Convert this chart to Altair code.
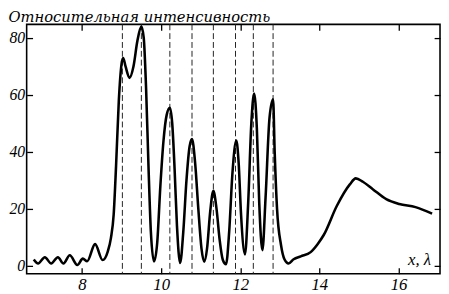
import altair as alt
import pandas as pd

# curve
curve_x = [6.78, 6.89, 7.06, 7.22, 7.39, 7.53, 7.69, 7.88, 8.02, 8.13, 8.33, 8.52, 8.65, 8.73, 8.80, 8.86,
           8.93, 9.00, 9.04, 9.10, 9.20, 9.30, 9.40, 9.50, 9.56, 9.62, 9.68, 9.74, 9.82, 9.90, 9.98,
           10.06, 10.14, 10.22, 10.28, 10.34, 10.40, 10.48, 10.56, 10.64, 10.72, 10.78, 10.86, 10.94,
           11.02, 11.09, 11.16, 11.24, 11.32, 11.40, 11.48, 11.56, 11.64, 11.72, 11.80, 11.90, 11.96,
           12.02, 12.12, 12.20, 12.28, 12.35, 12.42, 12.48, 12.56, 12.64, 12.74, 12.83, 12.87, 12.93,
           13.03, 13.12, 13.22, 13.35, 13.53, 13.78, 13.95, 14.11, 14.44, 14.77, 14.92, 15.10, 15.35,
           15.69, 16.02, 16.43, 16.85]
curve_y = [2.2, 0.8, 3.0, 0.8, 3.0, 0.8, 3.7, 0.3, 2.5, 1.6, 7.6, 2.0, 5.0, 9.7, 18, 35,
           58, 71, 73, 70, 66, 70, 79, 84, 80, 62, 35, 12, 1.5, 8, 28,
           44, 53, 55.5, 50, 34, 14, 1.0, 12, 30, 42, 44.5, 36, 20,
           6, 1.4, 6, 19, 26.3, 20, 9, 2, 0.5, 12, 32, 44, 36,
           18, 4, 22, 50, 60.5, 48, 22, 5.5, 24, 52, 58.5, 40, 20,
           7.3, 2.2, 0.8, 2.3, 3.3, 4.8, 7.5, 10.8, 21, 28.6, 30.7, 29.5, 26.9,
           23.4, 21.7, 20.6, 18.3]

dash_x = [9.02, 9.50, 10.22, 10.78, 11.32, 11.88, 12.33, 12.83]

x_ticks = [8, 10, 12, 14, 16]
y_ticks = [0, 20, 40, 60, 80]
x_domain = [6.6, 17.05]
y_domain = [-2.8, 84.8]

y_title = "Относительная интенсивность"
x_title = "x, λ"

curve = pd.DataFrame({"x": curve_x, "y": curve_y})
dashes = pd.DataFrame({"x": dash_x})

TITLE_FONT = "DejaVu Serif"
FONT = "Liberation Serif"

xscale = alt.Scale(domain=x_domain, nice=False, zero=False)
yscale = alt.Scale(domain=y_domain, nice=False, zero=False)

common = dict(domain=False, grid=False, tickSize=6, offset=-6, tickColor="black", tickWidth=1.3)

rules = alt.Chart(dashes).mark_rule(color="#222222", strokeWidth=1, strokeDash=[6, 3]).encode(
    x=alt.X("x:Q", scale=xscale,
            axis=alt.Axis(orient="top", values=x_ticks, labels=False, title="", **common))
)

line = alt.Chart(curve).mark_line(color="black", strokeWidth=2.6, interpolate="monotone").encode(
    x=alt.X("x:Q", scale=xscale,
            axis=alt.Axis(orient="bottom", values=x_ticks, labelFont=FONT, labelFontStyle="italic",
                          labelFontSize=17, labelColor="black", labelPadding=3, format="d",
                          title=x_title, titleFont=FONT, titleFontStyle="italic", titleFontWeight="normal",
                          titleFontSize=17, titleColor="black", titleAlign="left", titleBaseline="alphabetic",
                          titleAnchor="start", titleX=388, titleY=-3, **common)),
    y=alt.Y("y:Q", scale=yscale,
            axis=alt.Axis(orient="left", values=y_ticks, labelFont=FONT, labelFontStyle="italic",
                          labelFontSize=16, labelColor="black", labelPadding=2, format="d",
                          title=y_title, titleFont=TITLE_FONT, titleFontStyle="italic", titleFontWeight="normal",
                          titleFontSize=15, titleColor="black", titleAngle=0, titleAlign="left",
                          titleBaseline="alphabetic", titleAnchor="start", titleX=-25, titleY=-2.5, **common)),
)

ghost = alt.Chart(curve).mark_line(opacity=0).encode(
    x=alt.X("x:Q", scale=xscale, axis=None),
    y=alt.Y("y:Q", scale=yscale,
            axis=alt.Axis(orient="right", values=y_ticks, labels=False, title="", **common)),
)

chart = alt.layer(rules, line, ghost).resolve_axis(x="independent", y="independent").properties(
    width=421, height=254,
    autosize=alt.AutoSizeParams(type="none"),
    padding={"left": 19, "top": 14, "right": 1, "bottom": 18},
    background="white",
).configure_view(stroke="black", strokeWidth=1.6)

chart.save("out.html", embed_options={"renderer": "svg", "actions": False})
